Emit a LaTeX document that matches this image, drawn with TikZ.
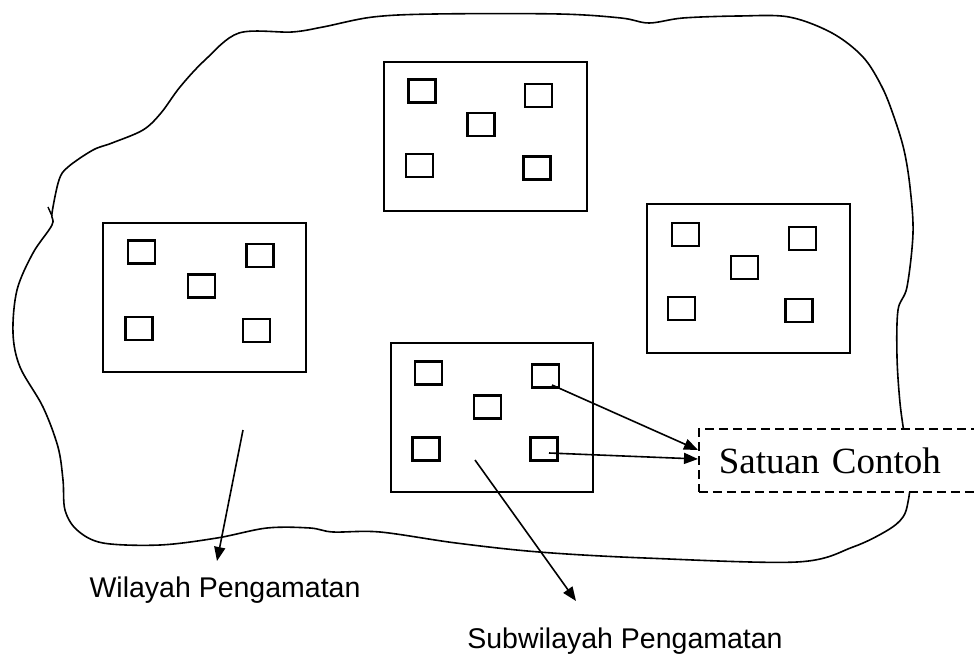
\documentclass[tikz,border=0pt]{standalone}
\usepackage{fontspec}
\setmainfont{Liberation Serif}
\newfontfamily\labelfont{Liberation Sans}
\usetikzlibrary{arrows.meta}
\tikzset{
  bigbox/.style={draw, line width=2pt, minimum height=149pt, inner sep=0pt},
  sbox/.style={draw, line width=2.1pt, minimum width=27pt, minimum height=23pt, inner sep=0pt},
  blobline/.style={line width=1.6pt, line join=round},
  arr/.style={line width=1.6pt, -{Triangle[length=14pt,width=11pt]}},
  lbl/.style={font=\labelfont\fontsize{28.5}{30}\selectfont, inner sep=0pt},
}
\begin{document}
\begin{tikzpicture}[x=1pt,y=-1pt]
\useasboundingbox (0,0) rectangle (974,660);
\clip (0,0) rectangle (974,660);
\fill[white] (0,0) rectangle (974,660);
% region outline
\draw[blobline] plot[smooth cycle, tension=0.55] coordinates {
 (52,213) (59,180) (68,167) (93,150) (112,143) (143,130) (161,113) (180,87)
 (205,60) (239,33) (292,32) (323,27) (373,17) (435,14) (559,14) (621,18)
 (649,23) (683,18) (739,16) (789,17) (832,33) (863,57) (882,87) (894,117)
 (904,150) (910,187) (913,233) (907,287) (898,310) (897,357) (900,403)
 (905,440) (910,480) (908,502) (903,517) (888,530) (853,547) (797,562)
 (645,558) (539,552) (456,543) (380,532) (333,532) (310,528) (267,528)
 (217,538) (160,545) (103,543) (77,530) (65,510) (63,480) (58,447) (43,407)
 (20,367) (13,333) (17,290) (33,253) (52,225)};
\draw[line width=1.4pt] (48,207) -- (52,216);
% subregions
\node[bigbox, minimum width=203pt] (rl) at (204.5,297.5) {};
\node[bigbox, minimum width=203pt] (rt) at (485.5,136.5) {};
\node[bigbox, minimum width=203pt] (rr) at (748.5,278.5) {};
\node[bigbox, minimum width=202pt] (rb) at (492,417.5) {};
% sample units: left
\node[sbox] (l1) at (141.5,252) {};
\node[sbox] (l2) at (260,255.5) {};
\node[sbox] (l3) at (201.5,286) {};
\node[sbox] (l4) at (139,328.5) {};
\node[sbox] (l5) at (256.5,330.5) {};
% top
\node[sbox] (t1) at (422,91) {};
\node[sbox] (t2) at (538.5,95.5) {};
\node[sbox] (t3) at (481,124.5) {};
\node[sbox] (t4) at (419.5,165.5) {};
\node[sbox] (t5) at (537,168) {};
% right
\node[sbox] (r1) at (685.5,234.5) {};
\node[sbox] (r2) at (802.5,238.5) {};
\node[sbox] (r3) at (744.5,267.5) {};
\node[sbox] (r4) at (681.5,308.5) {};
\node[sbox] (r5) at (799,310.5) {};
% bottom
\node[sbox] (b1) at (428.5,373) {};
\node[sbox] (b2) at (545.5,376) {};
\node[sbox] (b3) at (487.5,407) {};
\node[sbox] (b4) at (426,449) {};
\node[sbox] (b5) at (544,449) {};
% sample unit label
\node[draw, fill=white, dashed, dash pattern=on 9pt off 5pt, line width=1.8pt,
      minimum height=63pt, anchor=west, inner xsep=20pt, text width=300pt, align=left,
      font=\fontsize{37}{40}\selectfont] (sc) at (698,460.5) {Satuan Contoh};
% labels
\node[lbl] (wil) at (225,590) {Wilayah Pengamatan};
\node[lbl] (sub) at (625,641) {Subwilayah Pengamatan};
% connectors
\coordinate (s1) at (552,385);
\coordinate (s2) at (549,453);
\coordinate (e1) at (698,450);
\coordinate (e2) at (698,459);
\coordinate (w0) at (243,430);
\coordinate (w1) at (217,561);
\coordinate (u0) at (475,460);
\coordinate (u1) at (576,601);
\draw[arr] (s1) -- (e1);
\draw[arr] (s2) -- (e2);
\draw[arr] (w0) -- (w1);
\draw[arr] (u0) -- (u1);
\end{tikzpicture}
\end{document}
